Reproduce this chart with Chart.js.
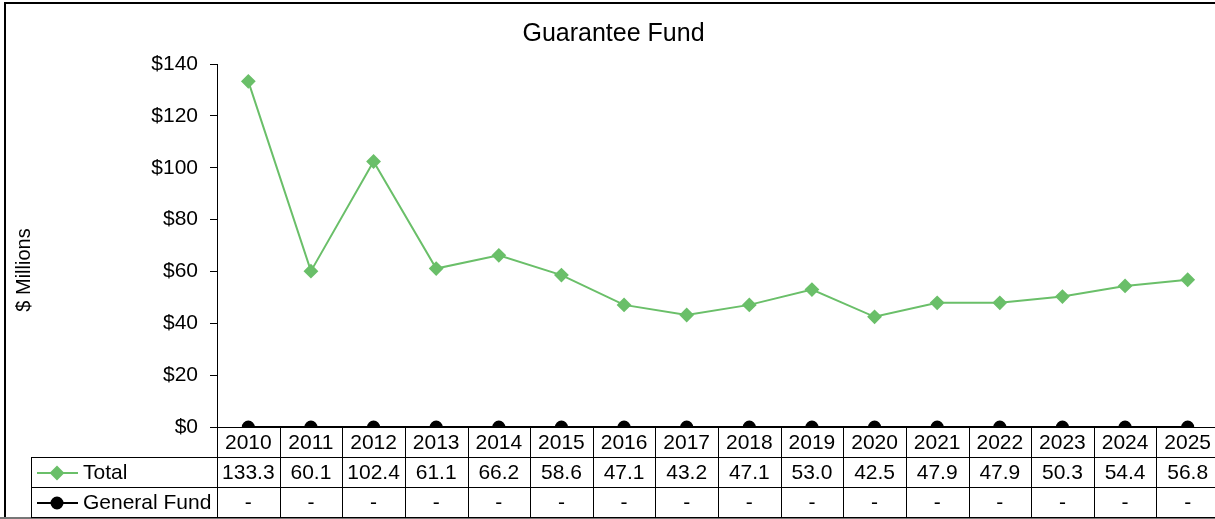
<!DOCTYPE html>
<html>
<head>
<meta charset="utf-8">
<script src="https://cdn.jsdelivr.net/npm/chart.js@4.4.1/dist/chart.umd.min.js"></script>
<style>
  body { margin: 0; background: #fff; overflow: hidden; }
  #wrap { width: 1215px; height: 519px; overflow: hidden; }
</style>
</head>
<body>
<div id="wrap"><canvas id="grafico" width="1227" height="519"></canvas></div>
<script>
const anios = ["2010", "2011", "2012", "2013", "2014", "2015", "2016", "2017",
  "2018", "2019", "2020", "2021", "2022", "2023", "2024", "2025"];
const total = [133.3, 60.1, 102.4, 61.1, 66.2, 58.6, 47.1, 43.2, 47.1, 53.0, 42.5, 47.9, 47.9, 50.3, 54.4, 56.8];
const fondoGeneral = [0, 0, 0, 0, 0, 0, 0, 0, 0, 0, 0, 0, 0, 0, 0, 0];
const ticksY = [0, 20, 40, 60, 80, 100, 120, 140];

const verde = "#6abf69";
const fuente = "'Liberation Sans', Arial, sans-serif";

// tabla de datos debajo del eje, estilo Excel
const tablaDatos = {
  id: "tablaDatos",
  afterDraw(chart) {
    const ctx = chart.ctx;
    const x = chart.scales.x;
    const area = chart.chartArea;
    const filaH = 30;
    const y0 = area.bottom;
    const izq = 31;
    const derecha = chart.width;
    const ancho = (area.right - area.left) / anios.length;

    ctx.save();
    ctx.strokeStyle = "#000";

    // marco exterior
    ctx.beginPath();
    ctx.lineWidth = 2;
    ctx.moveTo(5, 519);
    ctx.lineTo(5, 3);
    ctx.lineTo(derecha, 3);
    ctx.stroke();
    ctx.strokeStyle = "#777";
    ctx.beginPath();
    ctx.moveTo(0, 518);
    ctx.lineTo(derecha, 518);
    ctx.stroke();

    ctx.strokeStyle = "#000";
    ctx.lineWidth = 1;
    ctx.beginPath();
    // linea del eje x
    ctx.moveTo(area.left - 7, y0 + 0.5);
    ctx.lineTo(derecha, y0 + 0.5);
    for (let f = 1; f <= 3; f++) {
      const yy = Math.round(y0 + filaH * f) + 0.5;
      ctx.moveTo(izq, yy);
      ctx.lineTo(derecha, yy);
    }
    ctx.moveTo(izq + 0.5, y0 + filaH);
    ctx.lineTo(izq + 0.5, y0 + filaH * 3);
    for (let i = 0; i <= anios.length; i++) {
      const xx = Math.round(area.left + ancho * i) + 0.5;
      ctx.moveTo(xx, y0);
      ctx.lineTo(xx, y0 + filaH * 3);
    }
    ctx.stroke();

    ctx.fillStyle = "#000";
    ctx.font = "21px " + fuente;
    ctx.textAlign = "center";
    ctx.textBaseline = "middle";
    anios.forEach((a, i) => {
      const cx = x.getPixelForValue(i);
      ctx.fillText(a, cx, y0 + filaH * 0.5 + 1);
      ctx.fillText(total[i].toFixed(1), cx, y0 + filaH * 1.5 + 1);
      ctx.fillText(fondoGeneral[i] === 0 ? "-" : fondoGeneral[i].toFixed(1), cx, y0 + filaH * 2.5 + 1);
    });

    // claves de leyenda
    const filas = [
      { texto: "Total", color: verde, forma: "rectRot" },
      { texto: "General Fund", color: "#000", forma: "circle" }
    ];
    filas.forEach((fila, k) => {
      const cy = y0 + filaH * (1.5 + k) + 1;
      ctx.strokeStyle = fila.color;
      ctx.fillStyle = fila.color;
      ctx.lineWidth = 2;
      ctx.beginPath();
      ctx.moveTo(37, cy);
      ctx.lineTo(78, cy);
      ctx.stroke();
      Chart.helpers.drawPoint(ctx, { pointStyle: fila.forma, radius: fila.forma === "circle" ? 5.5 : 6, rotation: 0, borderWidth: 1 }, 57, cy);
      ctx.fillStyle = "#000";
      ctx.textAlign = "left";
      ctx.fillText(fila.texto, 83, cy);
    });

    // titulo del eje y
    ctx.translate(24, 270);
    ctx.rotate(-Math.PI / 2);
    ctx.textAlign = "center";
    ctx.font = "20px " + fuente;
    ctx.fillText("$ Millions", 0, 0);
    ctx.restore();
  }
};

new Chart(document.getElementById("grafico"), {
  type: "line",
  data: {
    labels: anios,
    datasets: [
      {
        label: "Total",
        data: total,
        borderColor: verde,
        backgroundColor: verde,
        borderWidth: 2,
        pointStyle: "rectRot",
        pointRadius: 6,
        pointHoverRadius: 6
      },
      {
        label: "General Fund",
        data: fondoGeneral,
        borderColor: "#000",
        backgroundColor: "#000",
        borderWidth: 2,
        pointStyle: "circle",
        pointRadius: 5.5,
        pointHoverRadius: 5.5
      }
    ]
  },
  options: {
    responsive: false,
    animation: false,
    layout: { padding: { left: 0, top: 0, right: 0, bottom: 92 } },
    scales: {
      x: {
        display: false,
        offset: true
      },
      y: {
        min: 0,
        max: 140,
        afterBuildTicks: scale => { scale.ticks = ticksY.map(v => ({ value: v })); },
        afterFit: scale => { scale.width = 217; },
        ticks: {
          color: "#000",
          padding: 12,
          font: { family: fuente, size: 21 },
          callback: v => "$" + v
        },
        grid: { drawOnChartArea: false, drawTicks: true, tickLength: 7, color: "#000" },
        border: { display: true, color: "#000", width: 1 }
      }
    },
    plugins: {
      legend: { display: false },
      tooltip: { enabled: false },
      title: {
        display: true,
        text: "Guarantee Fund",
        color: "#000",
        font: { family: fuente, size: 25, weight: "normal" },
        padding: { top: 19, bottom: 15 }
      }
    }
  },
  plugins: [tablaDatos]
});
</script>
</body>
</html>
